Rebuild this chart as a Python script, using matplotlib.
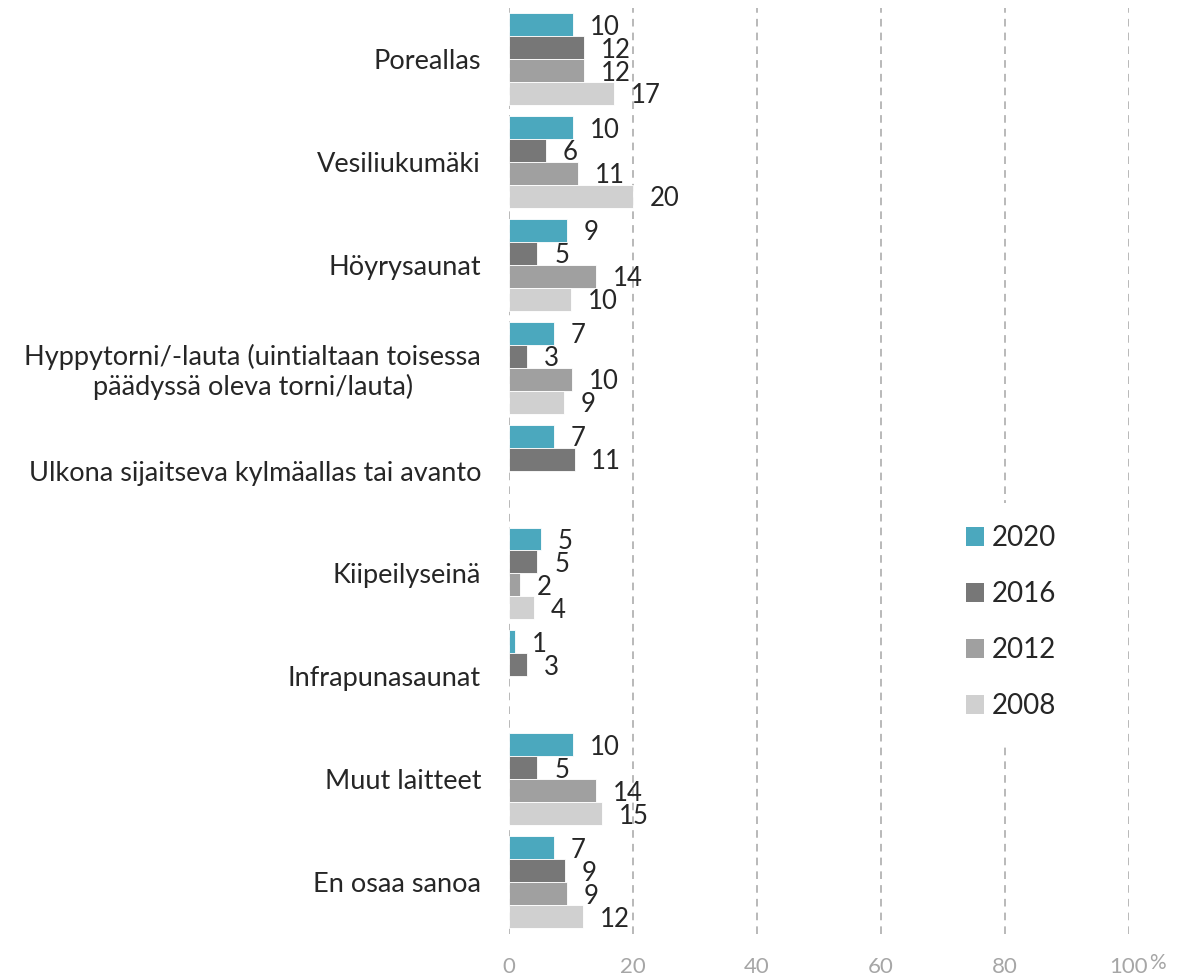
import numpy as np
import matplotlib.pyplot as plt
from matplotlib.patches import Patch

plt.rcParams['font.family'] = ['Lato', 'DejaVu Sans']

# kategoriat ja vuosittaiset osuudet (%)
categories = ['Poreallas', 'Vesiliukumäki', 'Höyrysaunat',
              'Hyppytorni/-lauta (uintialtaan toisessa\npäädyssä oleva torni/lauta)',
              'Ulkona sijaitseva kylmäallas tai avanto', 'Kiipeilyseinä',
              'Infrapunasaunat', 'Muut laitteet', 'En osaa sanoa']
years = ['2020', '2016', '2012', '2008']
v2020 = [10.4, 10.4, 9.4, 7.2, 7.2, 5.2, 1.0, 10.4, 7.2]
v2016 = [12.1, 6.0, 4.6, 3.0, 10.6, 4.6, 3.0, 4.6, 9.1]
v2012 = [12.1, 11.2, 14.0, 10.2, None, 1.8, None, 14.0, 9.3]
v2008 = [17.0, 20.0, 10.0, 8.9, None, 4.0, None, 15.0, 12.0]
colors = ['#4BA8BE', '#777777', '#A0A0A0', '#D0D0D0']
xticks = [0, 20, 40, 60, 80, 100]

series = [v2020, v2016, v2012, v2008]

fig = plt.figure(figsize=(11.78, 9.8), dpi=100)
ax = fig.add_axes([0.432, 0.0474, 0.526, 0.9449])

n = len(categories)
h = 0.223
y = np.arange(n)
for i, (vals, col) in enumerate(zip(series, colors)):
    pos = y - 1.5 * h + i * h
    for p, v in zip(pos, vals):
        if v is None:
            continue
        ax.barh(p, v, height=h, color=col, edgecolor='white', linewidth=0.6, zorder=3)
        ax.text(v + 2.7, p + 0.025, f'{v:.0f}', va='center', ha='left',
                fontsize=18.5, color='#262626', zorder=4)

ax.set_ylim(n - 0.5, -0.5)
ax.set_xlim(0, 100)
ax.set_yticks(y)
ax.set_yticklabels(categories, fontsize=19.5, color='#262626', ha='right', multialignment='center')
ax.set_xticks(xticks)
ax.set_xticklabels([str(t) for t in xticks], fontsize=16, color='#A6A6A6')
ax.tick_params(axis='both', length=0)
ax.tick_params(axis='y', pad=20)
ax.tick_params(axis='x', pad=17)
for s in ax.spines.values():
    s.set_visible(False)
for t in xticks:
    ax.axvline(t, color='#A6A6A6', linestyle=(0, (5, 4)), linewidth=1.1, zorder=1)

ax.text(1.034, -0.021, '%', transform=ax.transAxes, fontsize=15,
        color='#A6A6A6', ha='left', va='top')

handles = [Patch(facecolor=c, edgecolor='none') for c in colors]
leg = ax.legend(handles, years, loc='center left', bbox_to_anchor=(0.789, 0.365),
                bbox_transform=fig.transFigure, frameon=True, fontsize=20,
                handlelength=0.65, handleheight=0.65, handletextpad=0.3,
                labelspacing=1.08, borderpad=0.8)
leg.get_frame().set_facecolor('white')
leg.get_frame().set_edgecolor('none')
leg.get_frame().set_alpha(1)
leg.set_zorder(5)
for t in leg.get_texts():
    t.set_color('#262626')

fig.savefig('out.png', dpi=100)
